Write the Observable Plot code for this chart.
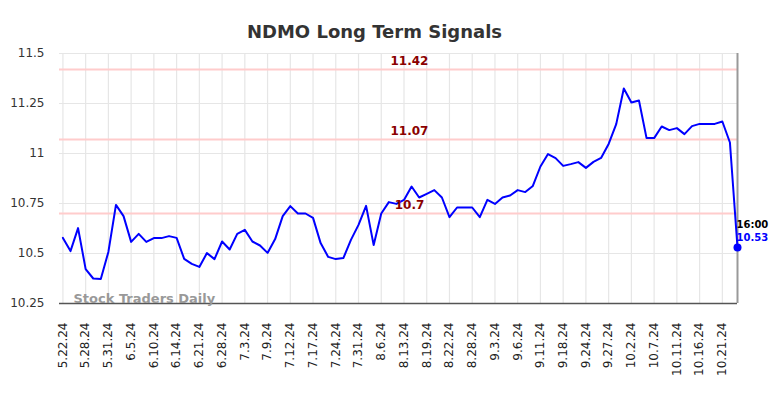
<!DOCTYPE html>
<html><head><meta charset="utf-8">
<script src="https://cdn.jsdelivr.net/npm/d3@7"></script>
<script src="https://cdn.jsdelivr.net/npm/@observablehq/plot@0.6"></script>
<style>body{margin:0;background:#fff;} #chart svg{font-family:"DejaVu Sans",sans-serif;}</style>
</head><body><div id="chart"></div>
<script>
const title = "NDMO Long Term Signals";
const watermark = "Stock Traders Daily";
const tickLabels = ["5.22.24","5.28.24","5.31.24","6.5.24","6.10.24","6.14.24","6.21.24","6.28.24","7.3.24","7.9.24","7.12.24","7.17.24","7.24.24","7.31.24","8.6.24","8.13.24","8.19.24","8.22.24","8.28.24","9.3.24","9.6.24","9.11.24","9.18.24","9.24.24","9.27.24","10.2.24","10.7.24","10.11.24","10.16.24","10.21.24"];
const tickEvery = 3;
const values = [10.578,10.512,10.627,10.422,10.375,10.373,10.508,10.743,10.687,10.558,
10.598,10.558,10.577,10.577,10.587,10.578,10.473,10.448,10.433,10.502,
10.472,10.56,10.52,10.598,10.618,10.56,10.54,10.503,10.572,10.687,
10.737,10.70,10.70,10.678,10.552,10.483,10.472,10.477,10.568,10.643,
10.738,10.542,10.70,10.757,10.748,10.768,10.835,10.78,10.798,10.817,
10.78,10.682,10.73,10.73,10.73,10.682,10.768,10.748,10.78,10.79,
10.817,10.807,10.838,10.935,10.997,10.977,10.938,10.947,10.957,10.928,
10.958,10.978,11.048,11.147,11.325,11.255,11.265,11.077,11.077,11.135,
11.117,11.127,11.097,11.137,11.148,11.148,11.148,11.16,11.055,10.53];
const signals = [11.42, 11.07, 10.7];
const signalLabels = ["11.42", "11.07", "10.7"];
const yTicks = [10.25, 10.5, 10.75, 11, 11.25, 11.5];
const yTickLabels = ["10.25", "10.5", "10.75", "11", "11.25", "11.5"];
const lastTime = "16:00";
const lastLabel = "10.53";

const n = values.length;
const last = n - 1;
const xTicks = tickLabels.map((_, i) => i * tickEvery);
const data = values.map((v, i) => ({i, v}));

const chart = Plot.plot({
  width: 784,
  height: 398,
  marginTop: 53,
  marginBottom: 95,
  marginLeft: 59,
  marginRight: 47,
  style: {fontFamily: "DejaVu Sans", background: "#fff"},
  x: {type: "linear", domain: [-0.45, last], label: null},
  y: {domain: [10.25, 11.5], label: null},
  marks: [
    Plot.ruleY(yTicks, {stroke: "#e6e6e6", strokeWidth: 1.2}),
    Plot.ruleX(xTicks, {stroke: "#e6e6e6", strokeWidth: 1.2}),
    Plot.ruleY(signals, {stroke: "#ffcccc", strokeWidth: 2}),
    Plot.ruleY([10.25], {stroke: "#555", strokeWidth: 1.5}),
    Plot.ruleX([last], {stroke: "#999", strokeWidth: 2}),
    Plot.line(data, {x: "i", y: "v", stroke: "#0000ff", strokeWidth: 2}),
    Plot.dot([data[last]], {x: "i", y: "v", r: 4, fill: "#0000ff"}),
    Plot.text(signals, {y: d => d, text: (d, i) => signalLabels[i], frameAnchor: "middle", dx: 11, dy: -8, fill: "#8b0000", fontWeight: "bold", fontSize: 12}),
    Plot.text([data[last]], {x: "i", y: "v", text: () => lastTime, textAnchor: "start", dx: -1, dy: -23, fill: "#000", fontWeight: "bold", fontSize: 10}),
    Plot.text([data[last]], {x: "i", y: "v", text: () => lastLabel, textAnchor: "start", dx: -1, dy: -10, fill: "#0000ff", fontWeight: "bold", fontSize: 10}),
    Plot.text([watermark], {frameAnchor: "bottom-left", textAnchor: "start", dx: 14, dy: -1, fill: "#999", fontWeight: "bold", fontSize: 13}),
    Plot.text([title], {frameAnchor: "top", dx: -24, dy: -28, fill: "#333", fontWeight: "bold", fontSize: 18}),
    Plot.axisY(yTicks, {label: null, tickSize: 0, tickPadding: 15, tickFormat: (d, i) => yTickLabels[i], fontSize: 12, color: "#333"}),
    Plot.axisX(xTicks, {label: null, tickSize: 0, tickPadding: 19, tickRotate: -90, tickFormat: d => tickLabels[d / tickEvery], fontSize: 12, color: "#222"})
  ]
});
document.getElementById("chart").appendChild(chart);
</script>
</body></html>
